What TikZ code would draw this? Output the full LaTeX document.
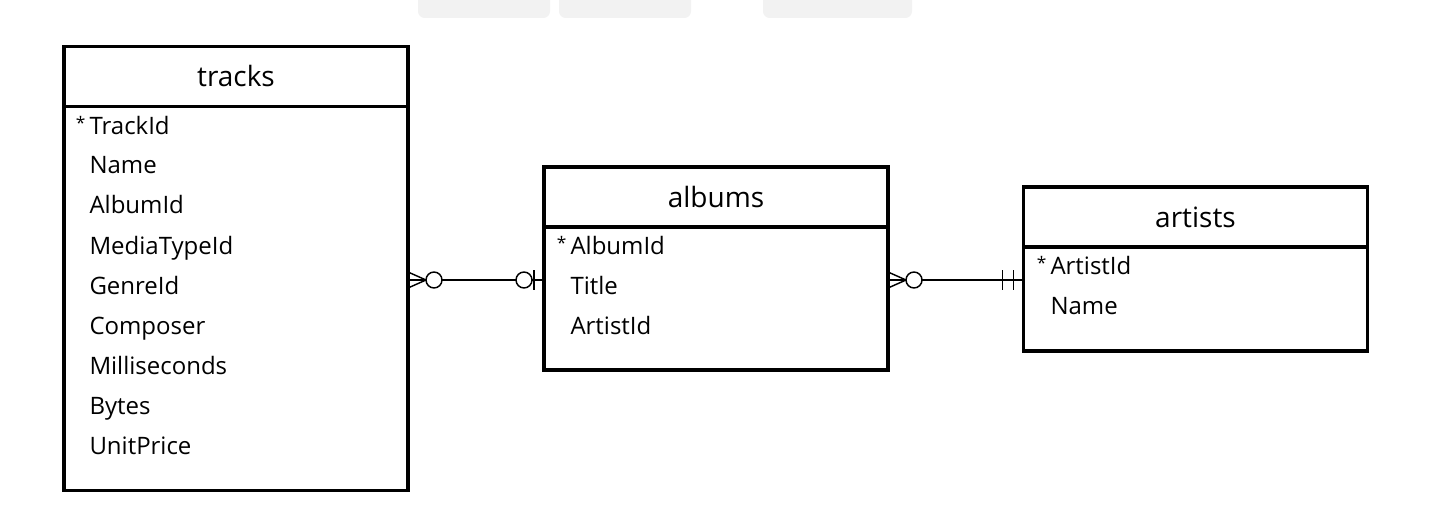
\documentclass[tikz,border=0pt]{standalone}
\usepackage{fontspec}
\setmainfont{Open Sans}
\usetikzlibrary{positioning}

\newcommand{\pkmark}{\llap{\raisebox{3.5pt}{\fontsize{13}{13}\selectfont*}\hspace{3pt}}}

\tikzset{every picture/.style={line width=0.75pt},
	tblhead/.style={draw, line width=2.6pt, outer sep=0pt, minimum width=258pt, minimum height=45pt, font=\fontsize{21}{24}\selectfont},
	tblbody/.style={draw, line width=2.6pt, outer sep=0pt, minimum width=258pt},
	fld/.style={anchor=base west, inner sep=0pt, font=\fontsize{18}{20}\selectfont},
	rel/.style={line width=1.1pt}}

\begin{document}
\begin{tikzpicture}[x=0.75pt,y=0.75pt,yscale=-1,xscale=1]
	\useasboundingbox (0,0) rectangle (1440,528);

	%Shape: Rounded Rect (cut off at the top)
	\begin{scope}
	\clip (0,0) rectangle (1440,528);
	\fill[black!5, rounded corners=5pt] (418,-20) rectangle (550,18);
	\fill[black!5, rounded corners=5pt] (559,-20) rectangle (691,18);
	\fill[black!5, rounded corners=5pt] (763,-20) rectangle (912,18);
	\end{scope}

	%Shape: Tables
	\node[tblhead] (trk) at (236,76.5) {tracks};
	\node[tblbody, minimum height=288pt, below=0pt of trk] (trkf) {};
	\node[tblhead] (alb) at (716,197) {albums};
	\node[tblbody, minimum height=107.25pt, below=0pt of alb] (albf) {};
	\node[tblhead] (art) at (1195.5,217) {artists};
	\node[tblbody, minimum height=78pt, below=0pt of art] (artf) {};

	% Text Node
	\node[fld] (trkpk) at (89,134) {\pkmark TrackId};
	\foreach \f [count=\i from 0] in {Name,AlbumId,MediaTypeId,GenreId,Composer,Milliseconds,Bytes,UnitPrice}
		\node[fld] (trk\i) at (89,174+40*\i) {\f};
	% Text Node
	\node[fld] (albpk) at (570,254) {\pkmark AlbumId};
	\node[fld] (alb0) at (570,294) {Title};
	\node[fld] (alb1) at (570,334) {ArtistId};
	% Text Node
	\node[fld] (artpk) at (1050,274) {\pkmark ArtistId};
	\node[fld] (art0) at (1050,314) {Name};

	%Straight Lines
	\draw[rel] (trkf.east |- 0,280) coordinate (ta) -- (albf.west |- 0,280) coordinate (ab);
	\draw[rel] (albf.east |- 0,280) coordinate (aa) -- (artf.west |- 0,280) coordinate (rb);

	%Shape: zero or many
	\draw[rel] (ta) ++(0,-8) -- ++(18,8) -- ++(-18,8);
	\draw[rel, fill=white] (ta) ++(26,0) circle[radius=8];
	\draw[rel] (aa) ++(0,-8) -- ++(18,8) -- ++(-18,8);
	\draw[rel, fill=white] (aa) ++(26,0) circle[radius=8];
	%Shape: zero or one
	\draw[rel, fill=white] (ab) ++(-20,0) circle[radius=8];
	\draw[rel] (ab) ++(-10,-10) -- ++(0,20);
	%Shape: exactly one
	\draw[rel] (rb) ++(-10,-10) -- ++(0,20);
	\draw[rel] (rb) ++(-21,-10) -- ++(0,20);

\end{tikzpicture}
\end{document}
